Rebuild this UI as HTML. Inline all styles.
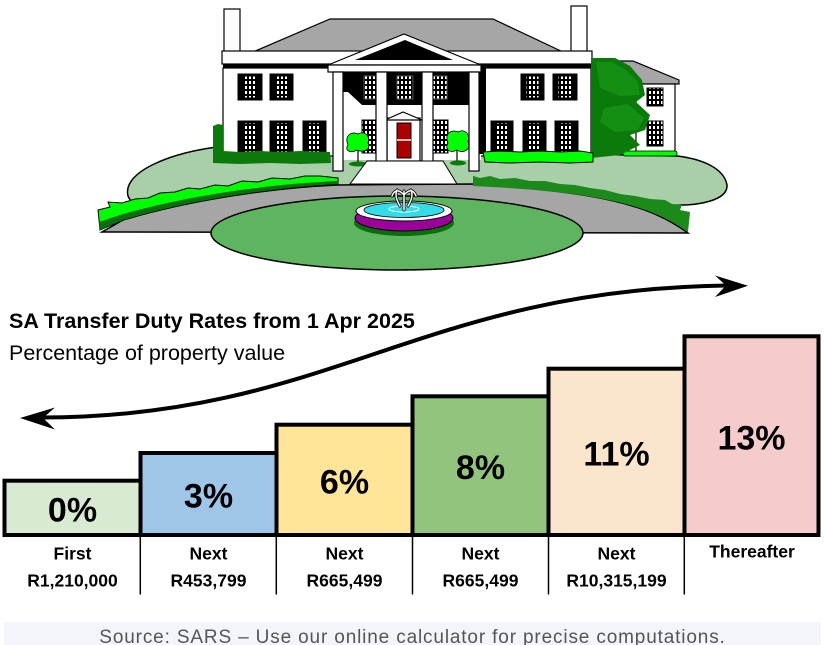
<!DOCTYPE html>
<html><head><meta charset="utf-8">
<style>
html,body{margin:0;padding:0;background:#fff;}
svg{display:block;}
</style></head><body>
<svg width="826" height="645" viewBox="0 0 826 645" xmlns="http://www.w3.org/2000/svg" font-family="'Liberation Sans', Arial, sans-serif">
<defs>
<pattern id="pn" x="0" y="0" width="4" height="5" patternUnits="userSpaceOnUse">
<rect width="4" height="5" fill="#000"/><rect x="1" y="1" width="2" height="3" fill="#fff"/>
</pattern>
</defs>

<!-- ===== HOUSE ILLUSTRATION ===== -->
<!-- light lawn -->
<path d="M225,146 C170,152 122,172 128,196 C132,206 145,210 160,212 L660,212 L672,205 C700,206 728,200 727,185 C724,168 702,159 677,156 L480,152 L225,150 Z" fill="#a8cfa8" stroke="#000" stroke-width="1.5"/>
<!-- driveway -->
<path d="M102,232 L688,233 C650,205 600,192 473,184 L337,185 C270,188 190,200 123,220 Z" fill="#a6a6a6" stroke="#000" stroke-width="1.5"/>
<!-- right dark hedge -->
<path d="M473,176 L480,178 L490,176 L500,179 L515,178 L530,181 L545,181 L560,184 L575,185 L590,188 L605,190 L620,194 L635,196 L650,199 L665,200 L672,204 L682,205 L680,210 L690,212 L688,232 C650,205 600,192 473,186 Z" fill="#1b8a1b"/>
<!-- left bright hedge -->
<path d="M98,210 L110,207 L108,202 L122,203 L135,199 L148,198 L160,193 L175,192 L188,188 L200,189 L215,185 L228,186 L242,181 L258,182 L272,178 L290,179 L305,176 L320,176 L338,178 L338,184 C270,188 190,200 123,220 L100,230 Z" fill="#00ff00" stroke="#000" stroke-width="1"/>
<path d="M100,230 L123,220 C190,200 270,188 338,184 L338,181 C270,184 190,195 123,214 L99,222 Z" fill="#0a6e0a"/>
<!-- oval lawn -->
<ellipse cx="397" cy="233" rx="186" ry="37" fill="#5fb55f" stroke="#000" stroke-width="1.5"/>
<!-- fountain -->
<ellipse cx="404" cy="223" rx="50" ry="13" fill="#0a6e0a"/>
<ellipse cx="404" cy="218" rx="49" ry="13" fill="#9b009b" stroke="#000" stroke-width="1"/>
<ellipse cx="404" cy="211" rx="48" ry="10" fill="#fff" stroke="#000" stroke-width="1"/>
<ellipse cx="404" cy="210" rx="40" ry="7.5" fill="#33dde8" stroke="#000" stroke-width="0.8"/>
<ellipse cx="404" cy="209" rx="15" ry="3" fill="none" stroke="#fff" stroke-width="1"/>
<g fill="none" stroke-linecap="round">
<path d="M404,210 L404,191 M404,195 Q396,186 392,196 M404,195 Q412,186 416,196 M400,206 Q394,196 397,190 M408,206 Q414,196 411,190" stroke="#000" stroke-width="3"/>
<path d="M404,210 L404,191 M404,195 Q396,186 392,196 M404,195 Q412,186 416,196 M400,206 Q394,196 397,190 M408,206 Q414,196 411,190" stroke="#fff" stroke-width="1.5"/>
</g>

<!-- roof and chimneys -->
<rect x="224" y="9" width="16" height="44" fill="#fff" stroke="#000" stroke-width="1.2"/>
<rect x="571" y="6" width="16" height="47" fill="#fff" stroke="#000" stroke-width="1.2"/>
<polygon points="253,52 330,19 493,19 563,52" fill="#a6a6a6" stroke="#000" stroke-width="1.2"/>
<!-- cornice -->
<rect x="222" y="51" width="370" height="13" fill="#fff" stroke="#000" stroke-width="1.2"/>
<rect x="223" y="64" width="368" height="4" fill="#000"/>
<!-- walls -->
<rect x="223" y="68" width="112" height="88" fill="#fff" stroke="#000" stroke-width="1.2"/>
<rect x="480" y="68" width="111" height="88" fill="#fff" stroke="#000" stroke-width="1.2"/>
<rect x="333" y="68" width="148" height="92" fill="#fff"/>
<path d="M333,72 L480,72 L480,105 L362,105 L348,92 L333,92 Z" fill="#000"/>
<rect x="479" y="68" width="7" height="86" fill="#000"/>

<!-- right annex -->
<polygon points="612,61 633,61 679,80 679,84 636,84 612,70" fill="#a6a6a6" stroke="#000" stroke-width="1.2"/>
<rect x="636" y="84" width="39" height="69" fill="#fff" stroke="#000" stroke-width="1.2"/>
<rect x="647" y="88" width="16" height="18" fill="url(#pn)" stroke="#000"/>
<rect x="647" y="121" width="16" height="25" fill="url(#pn)" stroke="#000"/>
<rect x="623" y="151" width="54" height="5" rx="2" fill="#00ff00" stroke="#000" stroke-width="0.8"/>
<!-- right tree -->
<path d="M591,58 L615,58 L630,66 L642,80 L645,95 L636,102 L650,115 L645,130 L630,135 L640,145 L620,155 L591,158 Z" fill="#0a7a0a"/>
<path d="M596,62 L612,62 L626,70 L638,82 L640,95 L620,96 L600,88 Z M604,108 L628,104 L644,118 L638,130 L615,132 L600,122 Z" fill="#148f14"/>

<!-- windows helper: left wing -->
<g stroke="#000" stroke-width="1">
<rect x="238" y="74" width="24" height="26" fill="#000"/><rect x="243" y="76" width="14" height="22" fill="url(#pn)"/>
<rect x="270" y="74" width="23" height="26" fill="#000"/><rect x="275" y="76" width="13" height="22" fill="url(#pn)"/>
<rect x="238" y="121" width="24" height="33" fill="#000"/><rect x="243" y="123" width="14" height="29" fill="url(#pn)"/>
<rect x="270" y="121" width="23" height="33" fill="#000"/><rect x="275" y="123" width="13" height="29" fill="url(#pn)"/>
<rect x="303" y="121" width="23" height="33" fill="#000"/><rect x="308" y="123" width="13" height="29" fill="url(#pn)"/>
<!-- right wing -->
<rect x="521" y="74" width="23" height="26" fill="#000"/><rect x="526" y="76" width="13" height="22" fill="url(#pn)"/>
<rect x="553" y="74" width="24" height="26" fill="#000"/><rect x="558" y="76" width="14" height="22" fill="url(#pn)"/>
<rect x="491" y="121" width="22" height="33" fill="#000"/><rect x="495" y="123" width="14" height="29" fill="url(#pn)"/>
<rect x="523" y="121" width="23" height="33" fill="#000"/><rect x="528" y="123" width="13" height="29" fill="url(#pn)"/>
<rect x="555" y="121" width="23" height="33" fill="#000"/><rect x="560" y="123" width="13" height="29" fill="url(#pn)"/>
<!-- portico windows -->
<rect x="364" y="76" width="13" height="23" fill="url(#pn)" stroke="#555"/>
<rect x="397" y="76" width="16" height="23" fill="url(#pn)" stroke="#555"/>
<rect x="432" y="76" width="15" height="23" fill="url(#pn)" stroke="#555"/>
<rect x="362" y="120" width="15" height="33" fill="url(#pn)"/>
<rect x="433" y="120" width="15" height="33" fill="url(#pn)"/>
</g>

<!-- door -->
<rect x="387" y="118" width="33" height="43" fill="#fff" stroke="#000" stroke-width="1.2"/>
<polygon points="385,120 403,112 422,120" fill="#fff" stroke="#000" stroke-width="1.2"/>
<rect x="397" y="123" width="14" height="35" fill="#aa0000" stroke="#000" stroke-width="1"/>
<line x1="397" y1="140" x2="411" y2="140" stroke="#fff" stroke-width="1.5"/>

<!-- pediment -->
<polygon points="328,65 404,34 481,65" fill="#fff" stroke="#000" stroke-width="1.2"/>
<polygon points="355,60 405,40 453,60" fill="#000"/>
<rect x="328" y="65" width="153" height="7" fill="#fff" stroke="#000" stroke-width="1.2"/>

<!-- small trees -->
<path d="M358,150 L358,163 M457,150 L457,162" stroke="#000" stroke-width="1.2"/>
<ellipse cx="358" cy="164" rx="9" ry="2.5" fill="#0a7a0a"/>
<ellipse cx="458" cy="163" rx="8" ry="2.5" fill="#0a7a0a"/>
<path d="M348,145 C344,135 352,131 358,134 C364,130 371,136 368,143 C372,150 362,153 357,150 C350,154 344,150 348,145 Z" fill="#00ff00" stroke="#000" stroke-width="0.8"/>
<path d="M448,143 C444,133 452,129 458,132 C464,128 471,134 468,142 C472,150 462,154 457,150 C450,154 444,149 448,143 Z" fill="#00ff00" stroke="#000" stroke-width="0.8"/>

<!-- columns -->
<g fill="#fff" stroke="#000" stroke-width="1.2">
<rect x="333" y="72" width="10" height="99"/>
<rect x="376" y="72" width="11" height="99"/>
<rect x="422" y="72" width="11" height="99"/>
<rect x="469" y="72" width="10" height="99"/>
</g>
<!-- walkway -->
<polygon points="367,161 443,161 457,184 350,184" fill="#fff" stroke="#000" stroke-width="1"/>

<!-- hedges near house -->
<path d="M213,126 L218,124 L223,125 L223,151 L240,152 L260,151 L280,152 L300,151 L330,152 L331,163 L300,164 L270,163 L240,164 L213,163 Z" fill="#0b7a0b"/>
<path d="M483,152 L500,151 L520,152 L540,151 L560,152 L580,151 L593,153 L593,162 L570,163 L540,162 L510,163 L485,162 Z" fill="#00ff00" stroke="#000" stroke-width="1"/>

<!-- ===== ARROW ===== -->
<path d="M42,417.5 C330,417 420,290 726,285.5" fill="none" stroke="#000" stroke-width="4"/>
<polygon points="20,418 55,407.5 43,418 55,429.5" fill="#000"/>
<polygon points="748,285.7 715,275.5 726,285.5 715,297" fill="#000"/>

<!-- ===== TITLES ===== -->
<text x="9" y="328" font-size="21.5" font-weight="bold" fill="#000">SA Transfer Duty Rates from 1 Apr 2025</text>
<text x="9" y="360" font-size="21.5" fill="#000">Percentage of property value</text>

<!-- ===== BARS ===== -->
<g stroke="#000" stroke-width="4">
<rect x="4.5" y="480.7" width="136" height="54.3" fill="#d9ead3"/>
<rect x="140.5" y="453" width="136" height="82" fill="#9fc5e8"/>
<rect x="276.5" y="424.7" width="136" height="110.3" fill="#ffe599"/>
<rect x="412.5" y="396.3" width="136" height="138.7" fill="#93c47d"/>
<rect x="548.5" y="368.7" width="136" height="166.3" fill="#fce5cd"/>
<rect x="684.5" y="336.3" width="134" height="198.7" fill="#f4cccc"/>
</g>
<g font-size="34" font-weight="bold" text-anchor="middle" fill="#000">
<text x="72.5" y="521.4">0%</text>
<text x="208.5" y="507.5">3%</text>
<text x="344.5" y="493.4">6%</text>
<text x="480.5" y="479.2">8%</text>
<text x="616.5" y="465.6">11%</text>
<text x="751.5" y="449.5">13%</text>
</g>

<!-- dividers -->
<g stroke="#000" stroke-width="1.5">
<line x1="140.3" y1="537" x2="140.3" y2="594.5"/>
<line x1="276.3" y1="537" x2="276.3" y2="594.5"/>
<line x1="412.5" y1="537" x2="412.5" y2="594.5"/>
<line x1="548.5" y1="537" x2="548.5" y2="594.5"/>
<line x1="684.3" y1="537" x2="684.3" y2="594.5"/>
</g>
<g font-size="17.5" font-weight="bold" text-anchor="middle" fill="#000">
<text x="72.5" y="559.3">First</text>
<text x="72.5" y="586.7">R1,210,000</text>
<text x="208.5" y="559.3">Next</text>
<text x="208.5" y="586.7">R453,799</text>
<text x="344.5" y="559.3">Next</text>
<text x="344.5" y="586.7">R665,499</text>
<text x="480.5" y="559.3">Next</text>
<text x="480.5" y="586.7">R665,499</text>
<text x="616.5" y="559.3">Next</text>
<text x="616.5" y="586.7">R10,315,199</text>
<text x="752" y="557.7">Thereafter</text>
</g>

<!-- ===== FOOTER ===== -->
<rect x="4" y="622" width="817" height="23" fill="#f3f5fa"/>
<text x="412.5" y="643" font-size="19" letter-spacing="0.85" text-anchor="middle" fill="#555">Source: SARS – Use our online calculator for precise computations.</text>
</svg>
</body></html>
